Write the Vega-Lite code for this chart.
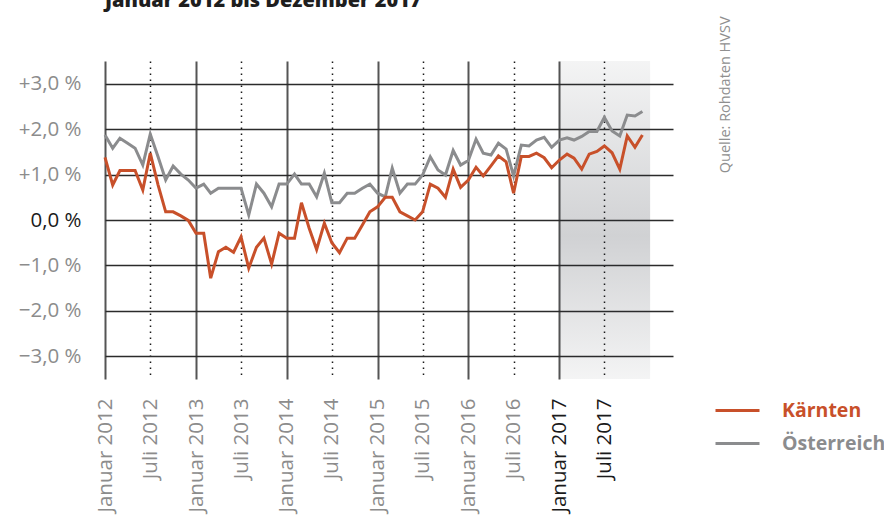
{
  "$schema": "https://vega.github.io/schema/vega-lite/v6.json",
  "autosize": {"type": "none"},
  "padding": {"left": 105, "top": 61, "right": 211, "bottom": 139},
  "width": 568,
  "height": 318,
  "background": "white",
  "config": {"view": {"stroke": null}, "font": "Open Sans"},
  "title": {"text": "Januar 2012 bis Dezember 2017", "anchor": "start", "frame": "group", "offset": 3, "dy": 14, "baseline": "alphabetic", "font": "Open Sans", "fontSize": 20, "fontWeight": 800, "color": "#1e1e1e"},
  "data": {"values": [
    {"d": "2012-01-01", "Kärnten": 1.38, "Österreich": 1.87},
    {"d": "2012-02-01", "Kärnten": 0.77, "Österreich": 1.58},
    {"d": "2012-03-01", "Kärnten": 1.09, "Österreich": 1.80},
    {"d": "2012-04-01", "Kärnten": 1.09, "Österreich": 1.69},
    {"d": "2012-05-01", "Kärnten": 1.09, "Österreich": 1.58},
    {"d": "2012-06-01", "Kärnten": 0.66, "Österreich": 1.21},
    {"d": "2012-07-01", "Kärnten": 1.47, "Österreich": 1.89},
    {"d": "2012-08-01", "Kärnten": 0.78, "Österreich": 1.40},
    {"d": "2012-09-01", "Kärnten": 0.18, "Österreich": 0.88},
    {"d": "2012-10-01", "Kärnten": 0.18, "Österreich": 1.19},
    {"d": "2012-11-01", "Kärnten": 0.09, "Österreich": 1.01},
    {"d": "2012-12-01", "Kärnten": -0.01, "Österreich": 0.88},
    {"d": "2013-01-01", "Kärnten": -0.29, "Österreich": 0.70},
    {"d": "2013-02-01", "Kärnten": -0.29, "Österreich": 0.79},
    {"d": "2013-03-01", "Kärnten": -1.28, "Österreich": 0.59},
    {"d": "2013-04-01", "Kärnten": -0.70, "Österreich": 0.70},
    {"d": "2013-05-01", "Kärnten": -0.60, "Österreich": 0.70},
    {"d": "2013-06-01", "Kärnten": -0.71, "Österreich": 0.70},
    {"d": "2013-07-01", "Kärnten": -0.37, "Österreich": 0.70},
    {"d": "2013-08-01", "Kärnten": -1.06, "Österreich": 0.11},
    {"d": "2013-09-01", "Kärnten": -0.60, "Österreich": 0.79},
    {"d": "2013-10-01", "Kärnten": -0.40, "Österreich": 0.59},
    {"d": "2013-11-01", "Kärnten": -0.97, "Österreich": 0.29},
    {"d": "2013-12-01", "Kärnten": -0.29, "Österreich": 0.79},
    {"d": "2014-01-01", "Kärnten": -0.40, "Österreich": 0.79},
    {"d": "2014-02-01", "Kärnten": -0.40, "Österreich": 1.01},
    {"d": "2014-03-01", "Kärnten": 0.38, "Österreich": 0.79},
    {"d": "2014-04-01", "Kärnten": -0.18, "Österreich": 0.79},
    {"d": "2014-05-01", "Kärnten": -0.65, "Österreich": 0.51},
    {"d": "2014-06-01", "Kärnten": -0.07, "Österreich": 1.03},
    {"d": "2014-07-01", "Kärnten": -0.50, "Österreich": 0.38},
    {"d": "2014-08-01", "Kärnten": -0.72, "Österreich": 0.38},
    {"d": "2014-09-01", "Kärnten": -0.40, "Österreich": 0.59},
    {"d": "2014-10-01", "Kärnten": -0.40, "Österreich": 0.59},
    {"d": "2014-11-01", "Kärnten": -0.11, "Österreich": 0.70},
    {"d": "2014-12-01", "Kärnten": 0.18, "Österreich": 0.79},
    {"d": "2015-01-01", "Kärnten": 0.29, "Österreich": 0.59},
    {"d": "2015-02-01", "Kärnten": 0.50, "Österreich": 0.51},
    {"d": "2015-03-01", "Kärnten": 0.50, "Österreich": 1.14},
    {"d": "2015-04-01", "Kärnten": 0.18, "Österreich": 0.59},
    {"d": "2015-05-01", "Kärnten": 0.09, "Österreich": 0.79},
    {"d": "2015-06-01", "Kärnten": 0.00, "Österreich": 0.79},
    {"d": "2015-07-01", "Kärnten": 0.18, "Österreich": 0.99},
    {"d": "2015-08-01", "Kärnten": 0.79, "Österreich": 1.39},
    {"d": "2015-09-01", "Kärnten": 0.70, "Österreich": 1.10},
    {"d": "2015-10-01", "Kärnten": 0.50, "Österreich": 0.99},
    {"d": "2015-11-01", "Kärnten": 1.12, "Österreich": 1.53},
    {"d": "2015-12-01", "Kärnten": 0.72, "Österreich": 1.21},
    {"d": "2016-01-01", "Kärnten": 0.88, "Österreich": 1.31},
    {"d": "2016-02-01", "Kärnten": 1.16, "Österreich": 1.78},
    {"d": "2016-03-01", "Kärnten": 0.97, "Österreich": 1.47},
    {"d": "2016-04-01", "Kärnten": 1.19, "Österreich": 1.43},
    {"d": "2016-05-01", "Kärnten": 1.41, "Österreich": 1.69},
    {"d": "2016-06-01", "Kärnten": 1.28, "Österreich": 1.56},
    {"d": "2016-07-01", "Kärnten": 0.59, "Österreich": 0.97},
    {"d": "2016-08-01", "Kärnten": 1.40, "Österreich": 1.65},
    {"d": "2016-09-01", "Kärnten": 1.40, "Österreich": 1.63},
    {"d": "2016-10-01", "Kärnten": 1.47, "Österreich": 1.76},
    {"d": "2016-11-01", "Kärnten": 1.37, "Österreich": 1.82},
    {"d": "2016-12-01", "Kärnten": 1.15, "Österreich": 1.60},
    {"d": "2017-01-01", "Kärnten": 1.32, "Österreich": 1.76},
    {"d": "2017-02-01", "Kärnten": 1.45, "Österreich": 1.81},
    {"d": "2017-03-01", "Kärnten": 1.36, "Österreich": 1.76},
    {"d": "2017-04-01", "Kärnten": 1.12, "Österreich": 1.84},
    {"d": "2017-05-01", "Kärnten": 1.45, "Österreich": 1.95},
    {"d": "2017-06-01", "Kärnten": 1.51, "Österreich": 1.95},
    {"d": "2017-07-01", "Kärnten": 1.63, "Österreich": 2.26},
    {"d": "2017-08-01", "Kärnten": 1.48, "Österreich": 1.96},
    {"d": "2017-09-01", "Kärnten": 1.12, "Österreich": 1.85},
    {"d": "2017-10-01", "Kärnten": 1.85, "Österreich": 2.31},
    {"d": "2017-11-01", "Kärnten": 1.60, "Österreich": 2.29},
    {"d": "2017-12-01", "Kärnten": 1.87, "Österreich": 2.39}
  ]},
  "layer": [
    {
      "data": {"values": [{"start": "2017-01-01", "end": "2018-01-01"}]},
      "mark": {"type": "rect", "stroke": null, "fill": {"gradient": "linear", "x1": 0, "y1": 0, "x2": 0, "y2": 1, "stops": [{"offset": 0, "color": "rgba(35,40,50,0.05)"}, {"offset": 0.55, "color": "rgba(35,40,50,0.21)"}, {"offset": 1, "color": "rgba(35,40,50,0.05)"}]}},
      "encoding": {
        "x": {"field": "start", "type": "temporal", "title": null, "scale": {"type": "utc", "domain": [{"year": 2012, "month": 1, "date": 1, "utc": true}, {"year": 2018, "month": 4, "date": 3, "utc": true}]}},
        "x2": {"field": "end"},
        "y": {"datum": 3.5, "type": "quantitative", "title": null, "scale": {"domain": [-3.5, 3.5], "nice": false}},
        "y2": {"datum": -3.5}
      }
    },
    {
      "transform": [{"fold": ["Österreich", "Kärnten"], "as": ["Region", "Wert"]}],
      "mark": {"type": "line", "strokeWidth": 3},
      "encoding": {
        "x": {"field": "d", "type": "temporal", "title": null,
          "scale": {"type": "utc", "domain": [{"year": 2012, "month": 1, "date": 1, "utc": true}, {"year": 2018, "month": 4, "date": 3, "utc": true}]},
          "axis": {
            "values": [
              {"year": 2012, "month": 1, "date": 1, "utc": true}, {"year": 2012, "month": 7, "date": 1, "utc": true},
              {"year": 2013, "month": 1, "date": 1, "utc": true}, {"year": 2013, "month": 7, "date": 1, "utc": true},
              {"year": 2014, "month": 1, "date": 1, "utc": true}, {"year": 2014, "month": 7, "date": 1, "utc": true},
              {"year": 2015, "month": 1, "date": 1, "utc": true}, {"year": 2015, "month": 7, "date": 1, "utc": true},
              {"year": 2016, "month": 1, "date": 1, "utc": true}, {"year": 2016, "month": 7, "date": 1, "utc": true},
              {"year": 2017, "month": 1, "date": 1, "utc": true}, {"year": 2017, "month": 7, "date": 1, "utc": true}
            ],
            "labelExpr": "(utcmonth(datum.value) == 0 ? 'Januar ' : 'Juli ') + utcyear(datum.value)",
            "labelAngle": -90, "labelAlign": "right", "labelBaseline": "middle",
            "labelFont": "Open Sans", "labelFontSize": 20.5, "labelPadding": 19,
            "labelColor": {"condition": {"test": "utcyear(datum.value) == 2017", "value": "#1a1a1a"}, "value": "#8c8c8c"},
            "labelFlush": false, "labelOverlap": false, "labelBound": false,
            "ticks": false, "domain": false,
            "grid": true,
            "gridColor": {"condition": {"test": "utcmonth(datum.value) == 6", "value": "#1a1a1a"}, "value": "#555555"},
            "gridDash": {"condition": {"test": "utcmonth(datum.value) == 6", "value": [1.5, 4.5]}, "value": []},
            "gridWidth": {"condition": {"test": "utcmonth(datum.value) == 6", "value": 1.5}, "value": 2}
          }
        },
        "y": {"field": "Wert", "type": "quantitative", "title": null,
          "scale": {"domain": [-3.5, 3.5], "nice": false},
          "axis": {
            "values": [-3, -2, -1, 0, 1, 2, 3],
            "labelExpr": "(datum.value > 0 ? '+' : datum.value < 0 ? '−' : '') + replace(format(abs(datum.value), '.1f'), '.', ',') + ' %'",
            "labelFont": "Open Sans", "labelFontSize": 20.5, "labelPadding": 24,
            "labelColor": {"condition": {"test": "datum.value == 0", "value": "#1a1a1a"}, "value": "#8c8c8c"},
            "ticks": false, "domain": false, "grid": true, "gridColor": "#2b2b2b", "gridWidth": 1.6
          }
        },
        "color": {"field": "Region", "type": "nominal",
          "scale": {"domain": ["Kärnten", "Österreich"], "range": ["#c8502a", "#8b8c8e"]},
          "legend": {"orient": "none", "legendX": 609, "legendY": 326, "title": null, "padding": 0,
            "symbolType": "stroke", "symbolSize": 1936, "symbolStrokeWidth": 3,
            "labelFont": "Open Sans", "labelFontSize": 19.5, "labelFontWeight": "bold", "labelOffset": 21, "rowPadding": -14,
            "encode": {"labels": {"update": {"fill": {"signal": "datum.value === 'Kärnten' ? '#c8502a' : '#8b8c8e'"}}}}
          }
        }
      }
    },
    {
      "data": {"values": [{"t": "Quelle: Rohdaten HVSV"}]},
      "mark": {"type": "text", "angle": 270, "align": "left", "baseline": "middle", "font": "Open Sans", "fontSize": 14.5, "color": "#8f8f8f"},
      "encoding": {
        "x": {"datum": {"year": 2018, "month": 11, "date": 1, "utc": true}, "type": "temporal", "title": null, "scale": {"type": "utc", "domain": [{"year": 2012, "month": 1, "date": 1, "utc": true}, {"year": 2018, "month": 4, "date": 3, "utc": true}]}},
        "y": {"datum": 1.03, "type": "quantitative", "title": null, "scale": {"domain": [-3.5, 3.5], "nice": false}},
        "text": {"field": "t"}
      }
    }
  ]
}
